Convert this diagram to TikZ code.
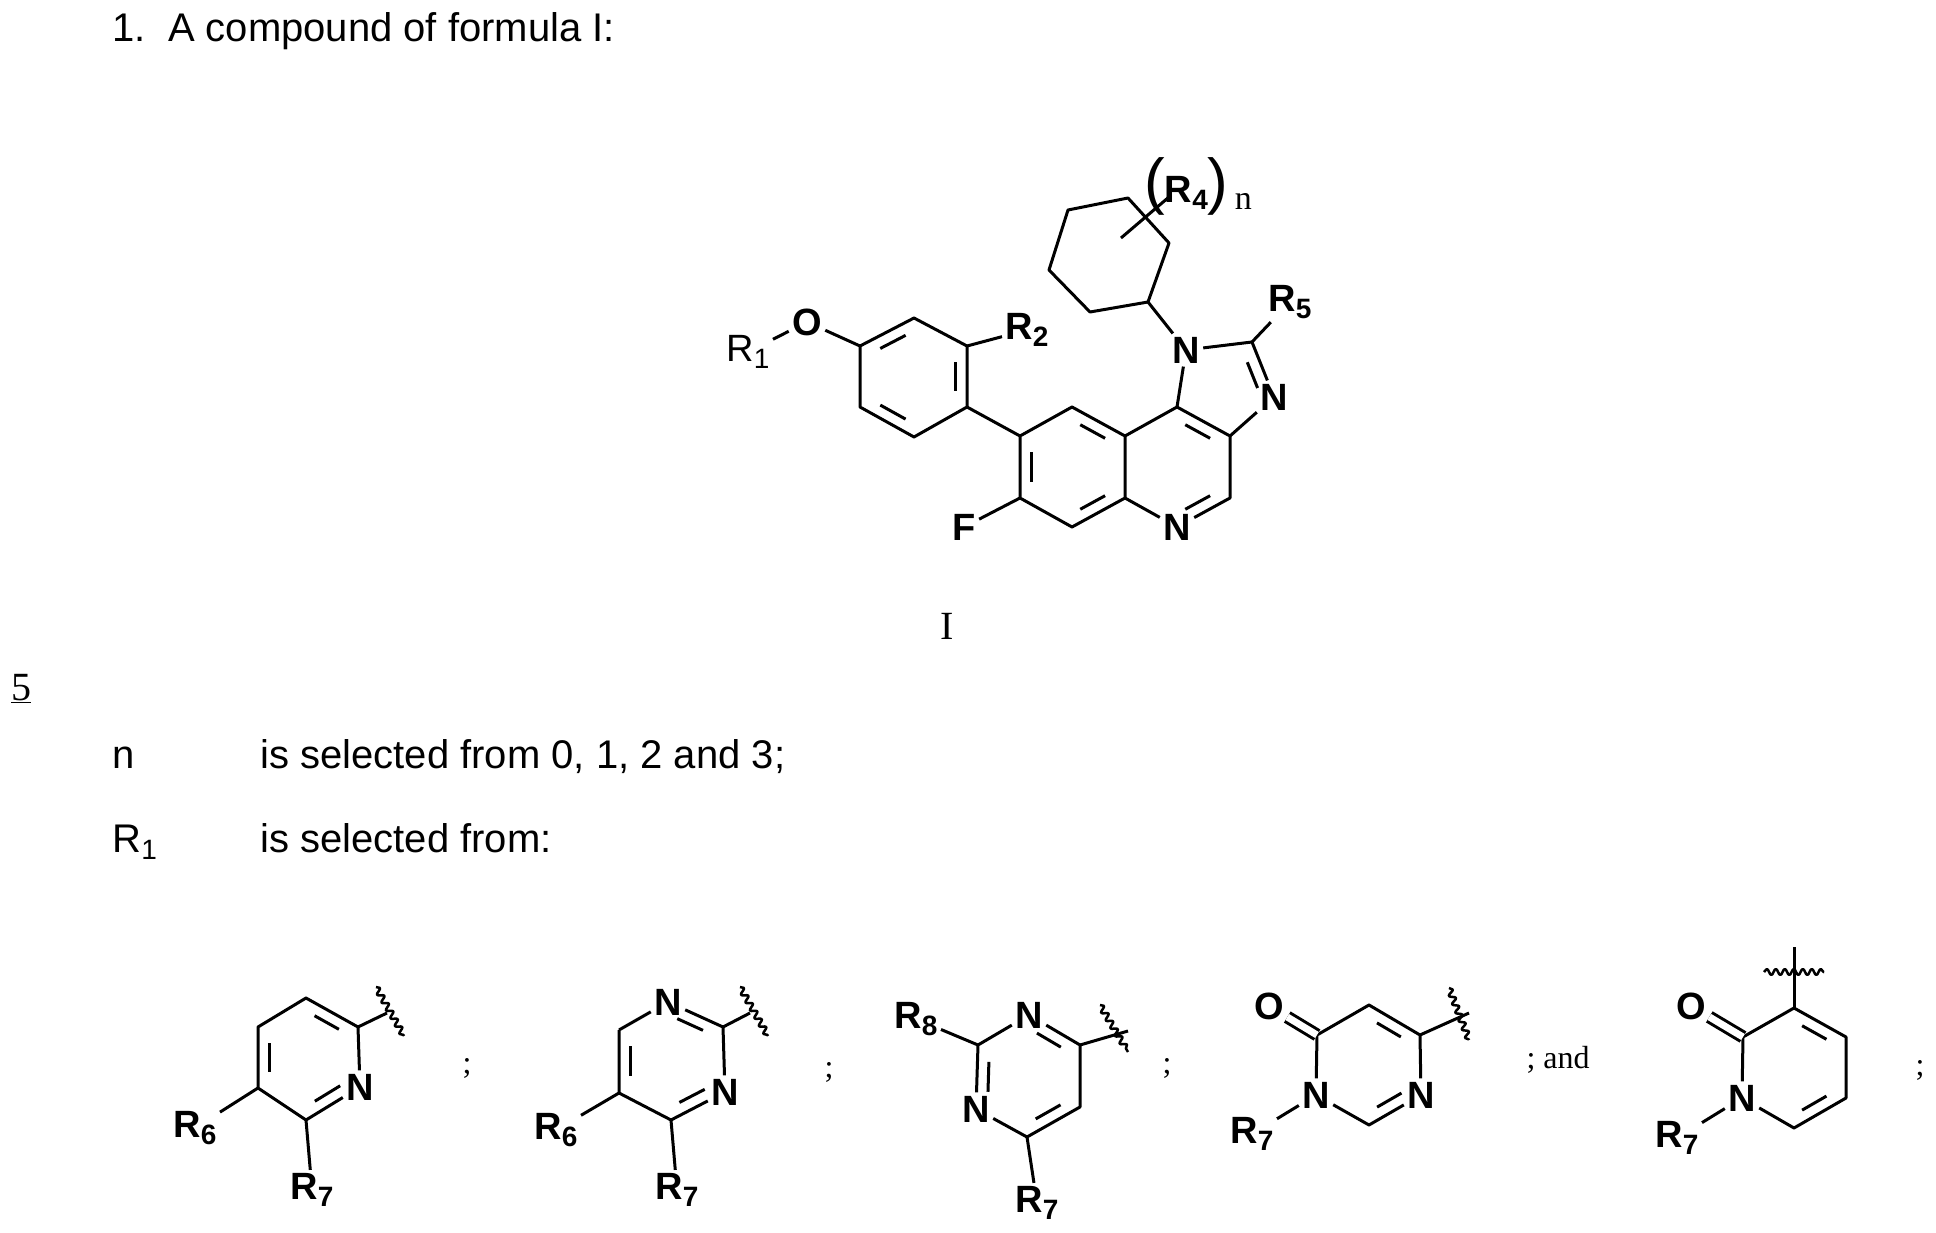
\documentclass[tikz,border=0pt]{standalone}
\usepackage{fontspec}
\setmainfont{Liberation Serif}
\setsansfont{Liberation Sans}
\usetikzlibrary{calc,decorations.pathmorphing}
\newcommand\sbs[1]{\raisebox{-0.35ex}{\fontsize{28}{28}\selectfont #1}}
\newcommand\dbond[3]{\draw ($(#1)!0.2!(#2)!0.22!(#3)$) -- ($(#2)!0.2!(#1)!0.22!(#3)$);}
\tikzset{
 atom/.style={font=\fontsize{38}{38}\selectfont\sffamily\bfseries, inner sep=2pt},
 latom/.style={font=\fontsize{38}{38}\selectfont\sffamily, inner sep=2pt},
 body/.style={font=\fontsize{40}{48}\selectfont\sffamily, inner sep=0pt, anchor=base west},
 semi/.style={font=\fontsize{32}{32}\selectfont\rmfamily, inner sep=0pt},
 wavy/.style={decorate, decoration={snake, segment length=9pt, amplitude=3pt}, line width=2.5pt},
 cobond/.style={double, double distance=7pt, line width=3pt}
}
\begin{document}
\begin{tikzpicture}[x=1pt,y=-1pt,line width=3pt,line join=round]
\useasboundingbox (0,0) rectangle (1936,1233);
% texts
\node[body] (t1) at (111,42) {1.\ \ A compound of formula I:};
\node[font=\fontsize{40}{40}\selectfont\rmfamily] (lab) at (947,626) {I};
\node[font=\fontsize{40}{40}\selectfont\rmfamily, inner sep=0pt, anchor=base] (five) at (21,700) {\underline{5}};
\node[body] (tn) at (111,768) {n};
\node[body] (tn2) at (259,768) {is selected from 0, 1, 2 and 3;};
\node[body] (tr) at (111,852) {R\sbs{1}};
\node[body] (tr2) at (259,852) {is selected from:};
% ---------- main structure
\coordinate (a1) at (860,346); \coordinate (a2) at (914,318); \coordinate (a3) at (967,346);
\coordinate (a4) at (967,407); \coordinate (a5) at (914,437); \coordinate (a6) at (860,407);
\coordinate (A) at (914,377);
\node[atom] (O) at (807,322) {O};
\node[latom] (R1) at (748,352) {R\sbs{1}};
\node[atom] (R2) at (1027,330) {R\sbs{2}};
\coordinate (q1) at (1020,436); \coordinate (q2) at (1072,407); \coordinate (q3) at (1125,436);
\coordinate (q4) at (1125,498); \coordinate (q5) at (1072,527); \coordinate (q6) at (1020,498);
\coordinate (Q) at (1072,467);
\node[atom] (F) at (964,527) {F};
\coordinate (p1) at (1177,407); \coordinate (p2) at (1230,436); \coordinate (p3) at (1230,498);
\node[atom] (Nq) at (1177,527) {N};
\coordinate (P) at (1177,467);
\node[atom] (N1) at (1186,350) {N};
\coordinate (ic2) at (1252,342);
\node[atom] (N3) at (1274,397) {N};
\coordinate (I) at (1215,395);
\node[atom] (R5) at (1290,302) {R\sbs{5}};
\coordinate (h1) at (1148,302); \coordinate (h2) at (1090,312); \coordinate (h3) at (1049,270);
\coordinate (h4) at (1068,210); \coordinate (h5) at (1128,198); \coordinate (h6) at (1169,243);
\coordinate (s1) at (1121,238); \coordinate (s2) at (1169,197);
\node[atom, inner sep=0pt] (R4) at (1198,186) {{\fontsize{62}{62}\selectfont\mdseries(}R\sbs{4}{\fontsize{62}{62}\selectfont\mdseries)}\,{\rmfamily\mdseries\fontsize{34}{34}\selectfont\raisebox{-0.5ex}{n}}};
\draw (R1) -- (O) -- (a1);
\draw (a1) -- (a2) -- (a3) -- (a4) -- (a5) -- (a6) -- (a1);
\draw (a3) -- (R2);
\dbond{a1}{a2}{A} \dbond{a3}{a4}{A} \dbond{a5}{a6}{A}
\draw (a4) -- (q1);
\draw (q1) -- (q2) -- (q3) -- (q4) -- (q5) -- (q6) -- (q1);
\draw (q6) -- (F);
\dbond{q1}{q6}{Q} \dbond{q2}{q3}{Q} \dbond{q5}{q4}{Q}
\draw (q3) -- (p1) -- (p2) -- (p3) -- (Nq) -- (q4);
\dbond{p1}{p2}{P} \dbond{p3}{Nq}{P}
\draw (p1) -- (N1) -- (ic2) -- (N3) -- (p2);
\dbond{ic2}{N3}{I}
\draw (ic2) -- (R5);
\draw (N1) -- (h1);
\draw (h1) -- (h2) -- (h3) -- (h4) -- (h5) -- (h6) -- (h1);
\draw (s1) -- (s2);
% ---------- S1
\coordinate (b1) at (306,998); \coordinate (b2) at (358,1027); \node[atom] (bN) at (360,1087) {N};
\coordinate (b4) at (306,1120); \coordinate (b5) at (258,1088); \coordinate (b6) at (258,1027);
\coordinate (B) at (308,1058);
\node[atom] (bR6) at (195,1128) {R\sbs{6}};
\node[atom] (bR7) at (312,1190) {R\sbs{7}};
\coordinate (bw) at (387,1013); \coordinate (bwa) at (376,987); \coordinate (bwb) at (404,1036);
\draw (b2) -- (bN) -- (b4);
\draw (b4) -- (b5) -- (b6) -- (b1) -- (b2);
\dbond{b1}{b2}{B} \dbond{b6}{b5}{B} \dbond{b4}{bN}{B}
\draw (b5) -- (bR6); \draw (b4) -- (bR7); \draw (b2) -- (bw);
\draw[wavy] (bwa) -- (bwb);
\node[semi] (sc1) at (467,1068) {;};
% ---------- S2
\node[atom] (cN1) at (668,1002) {N}; \coordinate (c2) at (723,1027); \node[atom] (cN3) at (725,1092) {N};
\coordinate (c4) at (671,1120); \coordinate (c5) at (619,1093); \coordinate (c6) at (619,1030);
\coordinate (C) at (671,1060);
\node[atom] (cR6) at (556,1130) {R\sbs{6}};
\node[atom] (cR7) at (677,1190) {R\sbs{7}};
\coordinate (cw) at (750,1013); \coordinate (cwa) at (740,987); \coordinate (cwb) at (768,1036);
\draw (c6) -- (cN1) -- (c2) -- (cN3) -- (c4) -- (c5) -- (c6);
\dbond{cN1}{c2}{C} \dbond{c4}{cN3}{C} \dbond{c5}{c6}{C}
\draw (c5) -- (cR6); \draw (c4) -- (cR7); \draw (c2) -- (cw);
\draw[wavy] (cwa) -- (cwb);
\node[semi] (sc2) at (829,1072) {;};
% ---------- S3
\node[atom] (dR8) at (916,1019) {R\sbs{8}};
\coordinate (d2) at (978,1045); \node[atom] (dN1) at (1029,1015) {N};
\coordinate (d6) at (1080,1045); \coordinate (d5) at (1080,1107); \coordinate (d4) at (1027,1137);
\node[atom] (dN3) at (976,1109) {N};
\coordinate (D) at (1029,1076);
\node[atom] (dR7) at (1037,1203) {R\sbs{7}};
\coordinate (dw) at (1128,1031); \coordinate (dwa) at (1100,1005); \coordinate (dwb) at (1128,1052);
\draw (d2) -- (dN1) -- (d6) -- (d5) -- (d4) -- (dN3) -- (d2);
\dbond{d2}{dN3}{D} \dbond{dN1}{d6}{D} \dbond{d4}{d5}{D}
\draw (d2) -- (dR8); \draw (d4) -- (dR7); \draw (d6) -- (dw);
\draw[wavy] (dwa) -- (dwb);
\node[semi] (sc3) at (1167,1068) {;};
% ---------- S4
\node[atom] (eO) at (1269,1006) {O};
\coordinate (e1) at (1317,1035); \coordinate (e2) at (1369,1005); \coordinate (e3) at (1420,1035);
\node[atom] (eNr) at (1421,1095) {N}; \coordinate (e5) at (1369,1125); \node[atom] (eNl) at (1316,1095) {N};
\coordinate (E) at (1369,1065);
\node[atom] (eR7) at (1252,1134) {R\sbs{7}};
\coordinate (ew) at (1469,1013); \coordinate (ewa) at (1449,988); \coordinate (ewb) at (1469,1040);
\draw (e1) -- (e2) -- (e3) -- (eNr) -- (e5) -- (eNl) -- (e1);
\draw[cobond] (e1) -- (eO);
\dbond{e2}{e3}{E} \dbond{e5}{eNr}{E}
\draw (eNl) -- (eR7); \draw (e3) -- (ew);
\draw[wavy] (ewa) -- (ewb);
\node[semi, anchor=west] (sc4) at (1525,1060) {; and};
% ---------- S5
\node[atom] (fO) at (1691,1006) {O};
\coordinate (f2) at (1743,1037); \coordinate (f3) at (1794,1008); \coordinate (f4) at (1846,1037);
\coordinate (f5) at (1846,1098); \coordinate (f6) at (1794,1128); \node[atom] (fN) at (1742,1098) {N};
\coordinate (Fc) at (1794,1068);
\node[atom] (fR7) at (1677,1138) {R\sbs{7}};
\coordinate (fw) at (1794,947); \coordinate (fwa) at (1764,972); \coordinate (fwb) at (1824,972);
\draw (f2) -- (f3) -- (f4) -- (f5) -- (f6) -- (fN) -- (f2);
\draw[cobond] (f2) -- (fO);
\dbond{f3}{f4}{Fc} \dbond{f5}{f6}{Fc}
\draw (fN) -- (fR7); \draw (f3) -- (fw);
\draw[wavy] (fwa) -- (fwb);
\node[semi] (sc5) at (1920,1070) {;};
\end{tikzpicture}
\end{document}
